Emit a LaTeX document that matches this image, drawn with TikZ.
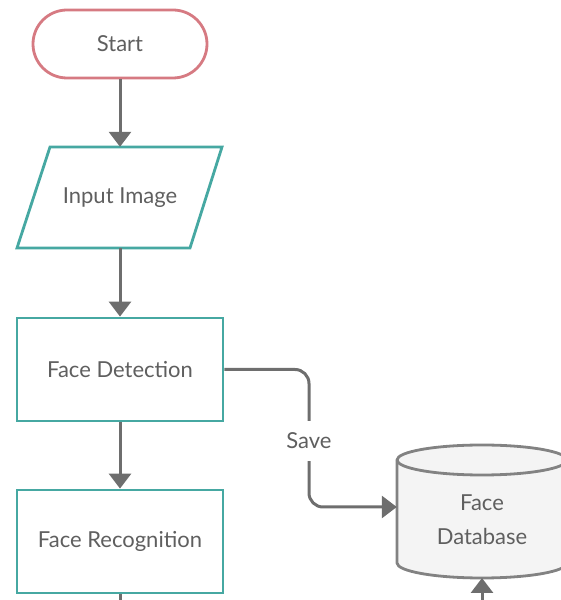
\documentclass[tikz,border=0pt]{standalone}
\usepackage{fontspec}
\setmainfont{Lato}
\usetikzlibrary{shapes.geometric,arrows.meta}
\definecolor{teal1}{RGB}{70,168,162}
\definecolor{pink1}{RGB}{214,122,130}
\definecolor{txt}{RGB}{95,95,95}
\definecolor{conn}{RGB}{110,110,110}
\definecolor{dbline}{RGB}{130,130,130}
\definecolor{dbfill}{RGB}{244,244,244}
\tikzset{
  lbl/.style={text=txt,font=\fontsize{22}{34}\selectfont},
  termbox/.style={lbl,draw=pink1,line width=2.8pt,rounded corners=34pt,minimum width=174pt,minimum height=68pt,fill=white},
  procbox/.style={lbl,draw=teal1,line width=2.8pt,minimum width=206pt,minimum height=103pt,fill=white},
  iobox/.style={lbl,minimum width=205pt,minimum height=101pt},
  shapeline/.style={draw=teal1,line width=2.8pt,fill=white,line join=miter},
  flow/.style={draw=conn,line width=3pt,-{Triangle[width=22pt,length=15pt]}},
}
\begin{document}
\begin{tikzpicture}[x=1pt,y=1pt]
\useasboundingbox (0,0) rectangle (560,600);
\node[termbox] (start) at (120,556) {Start};
% input parallelogram
\filldraw[shapeline] (17,352) -- (50,453) -- (222,453) -- (190,352) -- cycle;
\node[iobox] (inp) at (120,402.5) {Input Image};
\node[procbox] (det) at (120,230.5) {Face Detection};
\node[procbox] (rec) at (120,58.5) {Face Recognition};
% database cylinder
\filldraw[fill=dbfill,draw=dbline,line width=2.8pt]
  (397,140) -- (397,37) arc[start angle=180,end angle=360,x radius=85,y radius=15]
  -- (567,140) arc[start angle=0,end angle=180,x radius=85,y radius=15] -- cycle;
\draw[dbline,line width=2.8pt] (397,140) arc[start angle=180,end angle=360,x radius=85,y radius=15];
\node[lbl,minimum width=170pt,minimum height=118pt,align=center] (db) at (482,80) {Face\\Database};
\coordinate (botL) at (120,0);
\coordinate (botR) at (482,0);
\draw[flow] (start) -- (inp);
\draw[flow] (inp) -- (det);
\draw[flow] (det) -- (rec);
\draw[draw=conn,line width=3pt] (rec) -- (botL);
\draw[flow] (botR) -- ([yshift=-58pt]db.center);
\draw[flow,rounded corners=14pt] (det.east) -- (309,230.5) -- (309,93) -- ([yshift=13pt]db.west);
\node[lbl,fill=white,inner xsep=2pt,inner ysep=12pt] (save) at (309,159) {Save};
\end{tikzpicture}
\end{document}
